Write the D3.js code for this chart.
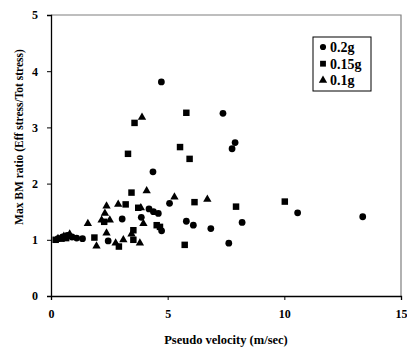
<!DOCTYPE html>
<html>
<head>
<meta charset="utf-8">
<script src="https://cdn.jsdelivr.net/npm/d3@7"></script>
<style>
  body { margin: 0; background: #fff; }
  text { font-family: "Liberation Serif", "Times New Roman", serif; font-weight: bold; }
</style>
</head>
<body>
<div id="chart"></div>
<script>
// values
const series = ["0.2g", "0.15g", "0.1g"];
const symbols = [d3.symbolCircle, d3.symbolSquare, d3.symbolTriangle];

const pts02 = [
  [4.73, 3.81], [7.37, 3.25], [7.89, 2.73], [7.76, 2.62], [4.37, 2.21],
  [5.08, 1.65], [4.20, 1.55], [4.39, 1.50], [4.60, 1.47], [3.05, 1.37],
  [3.87, 1.40], [4.74, 1.16], [2.45, 0.98], [5.80, 1.33], [6.10, 1.26],
  [6.85, 1.20], [8.19, 1.31], [7.62, 0.94], [10.57, 1.48], [13.36, 1.41],
  [0.3, 1.02], [0.5, 1.05], [0.7, 1.08], [0.9, 1.05], [1.1, 1.03], [1.35, 1.02]
];
const pts015 = [
  [5.80, 3.26], [3.58, 3.08], [3.30, 2.53], [5.53, 2.65], [5.94, 2.44],
  [3.45, 1.84], [3.20, 1.63], [3.74, 1.57], [4.53, 1.26], [4.67, 1.23],
  [3.53, 1.17], [1.86, 1.04], [3.53, 1.00], [2.91, 0.88], [6.15, 1.67],
  [7.93, 1.59], [10.02, 1.68], [5.73, 0.91], [2.28, 1.32],
  [0.2, 1.0], [0.45, 1.02], [0.65, 1.03]
];
const pts01 = [
  [3.90, 3.18], [4.10, 1.87], [2.38, 1.60], [2.88, 1.63], [3.85, 1.57],
  [2.31, 1.47], [2.17, 1.35], [2.52, 1.35], [3.96, 1.29], [3.45, 1.10],
  [2.38, 1.12], [1.95, 0.89], [3.10, 1.00], [2.77, 0.94], [3.81, 0.94],
  [1.58, 1.29], [5.29, 1.76], [6.70, 1.72],
  [0.3, 1.02], [0.55, 1.06], [0.8, 1.10]
];
const allPts = [pts02, pts015, pts01];

const xTicks = [0, 5, 10, 15];
const yTicks = [0, 1, 2, 3, 4, 5];

const width = 407, height = 347;
const margin = { top: 15, right: 6, bottom: 51, left: 51 };
const w = width - margin.left - margin.right,
  h = height - margin.top - margin.bottom;

const svg = d3.select("#chart").append("svg")
  .attr("width", width)
  .attr("height", height);

const g = svg.append("g")
  .attr("transform", "translate(" + margin.left + "," + margin.top + ")");

const x = d3.scaleLinear().domain([0, 15]).range([0, w]);
const y = d3.scaleLinear().domain([0, 5]).range([h, 0]);

// plot frame (top/right grey)
g.append("path")
  .attr("d", `M0,0H${w}V${h}`)
  .attr("fill", "none")
  .attr("stroke", "#7f7f7f")
  .attr("stroke-width", 1.2);

const xAxis = g.append("g")
  .attr("transform", "translate(0," + h + ")")
  .call(d3.axisBottom(x).tickValues(xTicks).tickFormat(d3.format("d")).tickSize(4).tickPadding(9));
const yAxis = g.append("g")
  .call(d3.axisLeft(y).tickValues(yTicks).tickFormat(d3.format("d")).tickSize(4).tickPadding(9));

[xAxis, yAxis].forEach((a) => {
  a.select(".domain").attr("stroke", "#000").attr("stroke-width", 1.3);
  a.selectAll(".tick line").attr("stroke", "#000");
  a.selectAll("text").style("font-size", "12px").attr("fill", "#000");
});

// points
allPts.forEach((pts, i) => {
  const size = i === 1 ? 42 : i === 0 ? 36 : 30;
  g.append("g").selectAll("path")
    .data(pts)
    .enter()
    .append("path")
    .attr("transform", (d) => `translate(${x(d[0])},${y(d[1])})`)
    .attr("d", d3.symbol().type(symbols[i]).size(size))
    .attr("fill", "#000");
});

// legend
const lg = svg.append("g").attr("transform", "translate(313,37)");
lg.append("rect")
  .attr("width", 58).attr("height", 54)
  .attr("fill", "#fff").attr("stroke", "#000").attr("stroke-width", 1);
series.forEach((s, i) => {
  const cy = 10 + i * 16.7;
  lg.append("path")
    .attr("transform", `translate(10,${cy})`)
    .attr("d", d3.symbol().type(symbols[i]).size(i === 1 ? 34 : 30))
    .attr("fill", "#000");
  lg.append("text")
    .attr("x", 17).attr("y", cy + 5)
    .style("font-size", "14px")
    .text(s);
});

// axis titles
svg.append("text")
  .attr("x", 226).attr("y", 344)
  .attr("text-anchor", "middle")
  .style("font-size", "12.5px")
  .text("Pseudo velocity (m/sec)");

svg.append("text")
  .attr("transform", "translate(23,137) rotate(-90)")
  .attr("text-anchor", "middle")
  .style("font-size", "11.5px")
  .text("Max BM ratio (Eff stress/Tot stress)");
</script>
</body>
</html>
